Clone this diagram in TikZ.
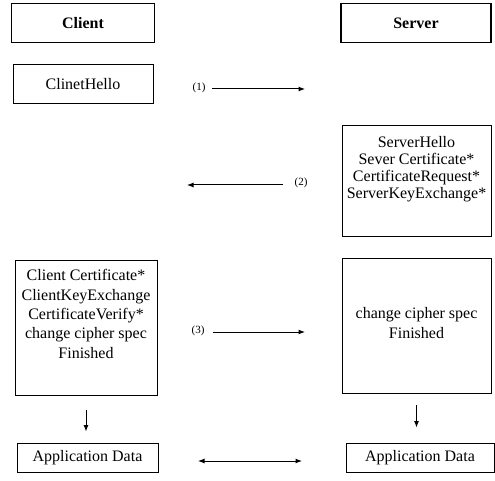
\documentclass[tikz,border=0pt]{standalone}
\usepackage{fontspec}
\setmainfont{Liberation Serif}
\usetikzlibrary{arrows.meta}
\begin{document}
\begin{tikzpicture}[x=1pt,y=-1pt,
  box/.style={draw, line width=0.9pt, inner sep=0pt},
  hdr/.style={draw, line width=1.8pt, inner sep=0pt, font=\fontsize{16}{18}\selectfont\bfseries},
  txt/.style={font=\fontsize{16}{19}\selectfont, align=center, inner sep=0pt},
  arr/.style={-{Latex[length=6.5pt,width=5pt]}, line width=1pt},
  biarr/.style={{Latex[length=6.5pt,width=5pt]}-{Latex[length=6.5pt,width=5pt]}, line width=1pt},
  lbl/.style={font=\fontsize{11}{12}\selectfont, inner sep=0pt}]
\useasboundingbox (0,0) rectangle (495,481);

% headers
\node[hdr, minimum width=143pt, minimum height=39pt] (client) at (83,23) {Client};
\node[hdr, minimum width=150pt, minimum height=39pt] (server) at (416,23) {Server};

% client hello
\node[box, txt, minimum width=140pt, minimum height=39pt] (hello) at (83,84) {ClinetHello};

% server hello box
\node[box, minimum width=149pt, minimum height=111pt] (shbox) at (416.5,180.5) {};
\node[txt, font=\fontsize{16}{16.8}\selectfont] (shtxt) at (416.5,169)
  {ServerHello\\Sever Certificate*\\CertificateRequest*\\ServerKeyExchange*};

% client certificate box
\node[box, minimum width=142pt, minimum height=135pt] (ccbox) at (86,327.5) {};
\node[txt, font=\fontsize{16}{19.3}\selectfont] (cctxt) at (86,314)
  {Client Certificate*\\ClientKeyExchange\\CertificateVerify*\\change cipher spec\\Finished};

% server finished box
\node[box, minimum width=149pt, minimum height=135pt] (sfbox) at (416.5,325.5) {};
\node[txt, font=\fontsize{16}{20}\selectfont] (sftxt) at (416.5,323)
  {change cipher spec\\Finished};

% application data
\node[box, txt, minimum width=141pt, minimum height=29pt] (appc) at (87.5,457.5) {Application Data};
\node[box, txt, minimum width=148pt, minimum height=29pt] (apps) at (420,457.5) {Application Data};

% message arrows
\node[lbl] (l1) at (199,88) {(1)};
\coordinate (a1s) at (212,89);
\coordinate (a1e) at (305,89);
\draw[arr] (a1s) -- (a1e);

\node[lbl] (l2) at (301,183) {(2)};
\coordinate (a2s) at (283,185);
\coordinate (a2e) at (187,185);
\draw[arr] (a2s) -- (a2e);

\node[lbl] (l3) at (198,331) {(3)};
\coordinate (a3s) at (213,332);
\coordinate (a3e) at (305,332);
\draw[arr] (a3s) -- (a3e);

% down arrows
\draw[arr, shorten <=15pt, shorten >=11pt] (ccbox.south) -- (appc.north -| ccbox.south);
\draw[arr, shorten <=12pt, shorten >=15pt] (sfbox.south) -- (apps.north -| sfbox.south);

% application data exchange
\coordinate (b1) at (198,461);
\coordinate (b2) at (302,461);
\draw[biarr] (b1) -- (b2);
\end{tikzpicture}
\end{document}
